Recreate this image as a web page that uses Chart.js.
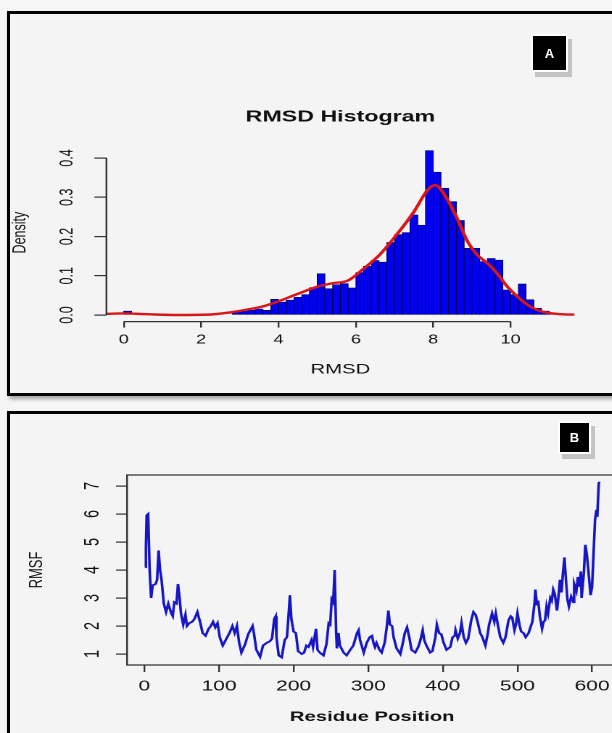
<!DOCTYPE html>
<html lang="en">
<head>
<meta charset="UTF-8">
<title>RMSD Histogram / RMSF</title>
<script src="https://cdn.jsdelivr.net/npm/chart.js@4.4.1/dist/chart.umd.min.js"></script>
<style>
  html, body { margin: 0; padding: 0; }
  body {
    width: 612px; height: 733px; overflow: hidden; position: relative;
    background: #f6f6f6;
    font-family: 'Liberation Sans', Arial, sans-serif;
  }
  .frame {
    position: absolute; left: 7px; width: 640px;
    border: 3px solid #000; background: #f4f4f4;
    box-shadow: 2px 3px 4px rgba(0, 0, 0, 0.35);
  }
  #frameA { top: 11px; height: 379px; }
  #frameB { top: 411px; height: 400px; }
  /* the original figure is stretched sideways, so the charts are too */
  .stretch { position: absolute; left: 0; transform-origin: 0 0; transform: scaleX(1.45); }
  #wrapA { top: 0; }
  #wrapB { top: 400px; }
  .tag {
    position: absolute; background: #000; color: #fff;
    font: bold 13px 'Liberation Sans', Arial, sans-serif;
    display: flex; align-items: center; justify-content: center;
    box-shadow: 0 0 0 2px #fff, 4px 5px 0 2px #c4c4c4;
  }
  #tagA { left: 533px; top: 36px; width: 33px; height: 34px; }
  #tagB { left: 560px; top: 423px; width: 29px; height: 29px; }
</style>
</head>
<body>
  <div class="frame" id="frameA"></div>
  <div class="frame" id="frameB"></div>

  <div class="stretch" id="wrapA"><canvas id="histA" width="440" height="400"></canvas></div>
  <div class="stretch" id="wrapB"><canvas id="rmsfB" width="440" height="333"></canvas></div>

  <div class="tag" id="tagA">A</div>
  <div class="tag" id="tagB">B</div>

<script>
// ---- panel A: RMSD histogram (density), bins of 0.2 ----
const rmsdBinWidth = 0.2;
const rmsdBinStarts = [0.0, 0.2, 0.4, 0.6, 0.8, 1.0, 1.2, 1.4, 1.6, 1.8, 2.0, 2.2, 2.4, 2.6,
  2.8, 3.0, 3.2, 3.4, 3.6, 3.8, 4.0, 4.2, 4.4, 4.6, 4.8, 5.0, 5.2, 5.4, 5.6, 5.8,
  6.0, 6.2, 6.4, 6.6, 6.8, 7.0, 7.2, 7.4, 7.6, 7.8, 8.0, 8.2, 8.4, 8.6, 8.8,
  9.0, 9.2, 9.4, 9.6, 9.8, 10.0, 10.2, 10.4, 10.6, 10.8, 11.0];
const rmsdDensity = [0.010, 0, 0, 0, 0, 0, 0, 0, 0, 0, 0, 0, 0, 0,
  0.008, 0.010, 0.012, 0.015, 0.012, 0.040, 0.033, 0.038, 0.045, 0.052, 0.070, 0.105, 0.067, 0.077, 0.080, 0.069,
  0.108, 0.124, 0.139, 0.135, 0.185, 0.205, 0.210, 0.255, 0.229, 0.419, 0.364, 0.323, 0.289, 0.241, 0.170,
  0.170, 0.136, 0.144, 0.140, 0.064, 0.052, 0.079, 0.039, 0.017, 0.010, 0.005];

// density curve
const kdeX = [-0.46, 0.0, 0.6, 1.4, 2.2, 2.7, 3.2, 3.6, 4.0, 4.5, 5.0, 5.4, 5.8, 6.2, 6.6, 7.0, 7.5,
  7.85, 8.05, 8.35, 8.6, 8.9, 9.15, 9.4, 9.65, 9.9, 10.2, 10.5, 10.85, 11.3, 11.7];
const kdeY = [0.003, 0.004, 0.002, 0.0, 0.001, 0.006, 0.014, 0.022, 0.035, 0.054, 0.072, 0.081, 0.088,
  0.118, 0.152, 0.198, 0.263, 0.318, 0.331, 0.297, 0.250, 0.185, 0.152, 0.132, 0.106, 0.074, 0.045,
  0.022, 0.008, 0.002, 0.001];

const xTicksA = [0, 2, 4, 6, 8, 10];
const yTicksA = [0, 0.1, 0.2, 0.3, 0.4];

// ---- panel B: RMSF per residue ----
const residues = [1, 2, 3, 5, 7, 9, 11, 15, 17, 19, 21, 23, 26, 29, 32, 36, 38, 40, 43, 45, 47, 49,
  52, 55, 57, 60, 64, 67, 71, 75, 78, 82, 86, 89, 92, 95, 98, 101, 105, 109, 114, 118, 121, 124,
  127, 130, 135, 139, 143, 145, 147, 150, 155, 159, 164, 168, 171, 174, 176, 177, 180, 184, 188,
  191, 193, 195, 197, 200, 203, 206, 211, 214, 217, 220, 224, 226, 230, 232, 235, 240, 244, 247,
  249, 251, 253, 255, 257, 258, 260, 262, 267, 271, 276, 280, 285, 287, 289, 294, 298, 302, 305,
  307, 309, 311, 315, 318, 322, 325, 327, 329, 332, 334, 338, 343, 346, 349, 352, 355, 358, 363,
  367, 370, 373, 375, 378, 383, 386, 390, 392, 395, 398, 401, 405, 410, 413, 416, 417, 420, 423,
  425, 428, 431, 434, 438, 441, 444, 447, 450, 453, 457, 460, 462, 465, 466, 469, 471, 474, 477,
  481, 484, 488, 491, 493, 496, 498, 500, 503, 505, 508, 511, 515, 518, 520, 523, 524, 526, 528,
  530, 533, 535, 537, 539, 541, 544, 546, 548, 550, 553, 555, 557, 559, 561, 563, 565, 567, 569,
  572, 575, 576, 579, 581, 583, 585, 586, 589, 591, 593, 595, 598, 600, 602, 604, 606, 607, 609, 610];
const rmsf = [4.1, 4.8, 5.95, 6.0, 4.0, 3.0, 3.45, 3.5, 3.65, 4.7, 4.0, 3.65, 2.8, 2.5, 2.8, 2.45, 2.35, 2.85, 2.8, 3.5, 3.05, 2.45,
  2.05, 2.4, 2.0, 2.1, 2.15, 2.25, 2.5, 2.1, 1.75, 1.65, 1.9, 2.0, 2.15, 1.95, 2.1, 1.6, 1.3, 1.5, 1.75, 2.0, 1.75, 2.0,
  1.4, 1.05, 1.35, 1.7, 1.9, 2.0, 1.7, 1.15, 0.9, 1.3, 1.4, 1.45, 1.55, 2.25, 2.35, 1.6, 0.95, 0.88, 1.5,
  1.6, 2.3, 3.1, 2.25, 1.8, 1.75, 1.1, 1.0, 1.05, 1.3, 1.25, 1.5, 1.25, 1.9, 1.15, 1.05, 0.95, 1.35, 2.1,
  2.05, 2.95, 2.85, 4.0, 1.75, 1.2, 1.75, 1.3, 1.05, 0.95, 1.15, 1.3, 1.75, 1.85, 1.5, 1.05, 1.4, 1.6, 1.65,
  1.4, 1.25, 1.4, 1.15, 1.05, 1.4, 2.0, 2.55, 2.05, 2.0, 1.6, 1.2, 1.0, 1.35, 1.75, 1.95, 1.6, 1.15, 1.05,
  1.25, 1.5, 1.85, 1.5, 1.3, 1.05, 1.1, 1.6, 2.05, 1.75, 1.7, 1.4, 1.15, 1.25, 1.6, 1.65, 1.85, 1.55, 1.75,
  2.1, 1.6, 1.4, 1.55, 2.2, 2.5, 2.4, 2.1, 1.75, 1.6, 1.3, 1.7, 2.05, 2.35, 2.45, 2.15, 2.45, 2.0, 1.6,
  1.4, 1.6, 2.2, 2.35, 2.3, 1.85, 2.05, 2.45, 2.0, 1.8, 1.75, 1.6, 1.75, 2.0, 2.15, 2.85, 3.3, 2.8, 2.85,
  2.35, 1.9, 2.15, 2.2, 2.7, 2.45, 3.0, 2.9, 3.3, 3.15, 2.55, 3.05, 3.65, 3.2, 3.9, 4.45, 3.65, 2.95, 2.7,
  3.05, 2.85, 3.5, 3.25, 3.75, 3.4, 3.95, 3.0, 3.9, 4.9, 4.55, 4.0, 3.1, 3.4, 4.6, 5.8, 6.15, 5.9, 7.1, 7.15];

const xTicksB = [0, 100, 200, 300, 400, 500, 600];
const yTicksB = [1, 2, 3, 4, 5, 6, 7];

const FONT = "'Liberation Sans', Arial, sans-serif";
const INK = '#111';

// R style axes: line only from first to last tick, or a full box
const rAxes = {
  id: 'rAxes',
  afterDraw(chart, args, opts) {
    const { ctx, chartArea: a, scales: { x, y } } = chart;
    ctx.save();
    ctx.strokeStyle = '#333';
    ctx.lineWidth = 1.2;
    ctx.beginPath();
    if (opts.box) {
      ctx.rect(a.left, a.top, a.right - a.left, a.bottom - a.top);
    } else {
      const xt = x.ticks, yt = y.ticks;
      ctx.moveTo(x.getPixelForValue(xt[0].value), a.bottom);
      ctx.lineTo(x.getPixelForValue(xt[xt.length - 1].value), a.bottom);
      ctx.moveTo(a.left, y.getPixelForValue(yt[0].value));
      ctx.lineTo(a.left, y.getPixelForValue(yt[yt.length - 1].value));
    }
    ctx.stroke();
    ctx.restore();
  }
};

function tickGrid(len) {
  return {
    display: true, offset: false, drawOnChartArea: false, drawTicks: true,
    tickLength: len, color: '#333', lineWidth: 1.2
  };
}

new Chart(document.getElementById('histA'), {
  type: 'bar',
  data: {
    datasets: [
      {
        type: 'line',
        data: kdeX.map((x, i) => ({ x: x, y: kdeY[i] })),
        borderColor: '#d81818',
        borderWidth: 2.4,
        pointRadius: 0,
        cubicInterpolationMode: 'monotone',
        order: 0
      },
      {
        type: 'bar',
        data: rmsdBinStarts.map((b, i) => ({ x: b + rmsdBinWidth / 2, y: rmsdDensity[i] })),
        backgroundColor: '#0000ee',
        borderColor: '#00004a',
        borderWidth: 0.6,
        borderSkipped: false,
        barPercentage: 1,
        categoryPercentage: 1,
        order: 1
      }
    ]
  },
  options: {
    responsive: false,
    animation: false,
    devicePixelRatio: 2,
    layout: { padding: { left: 0, right: 43.9, top: 0, bottom: 0 } },
    plugins: {
      legend: { display: false },
      tooltip: { enabled: false },
      title: {
        display: true, text: 'RMSD Histogram', fullSize: false, color: INK,
        font: { family: FONT, size: 16, weight: 'bold' },
        padding: { top: 107.4, bottom: 17 }
      }
    },
    scales: {
      x: {
        type: 'linear', min: -0.448, max: 11.648, offset: false,
        afterBuildTicks: s => { s.ticks = xTicksA.map(v => ({ value: v })); },
        afterFit: s => { s.height = 78.4; },
        grid: tickGrid(6),
        border: { display: false },
        ticks: { padding: 5, color: INK, maxRotation: 0, autoSkip: false, font: { family: FONT, size: 12.5 } },
        title: { display: true, text: 'RMSD', color: INK, font: { family: FONT, size: 14 }, padding: { top: 0, bottom: 22 } }
      },
      y: {
        min: -0.0168, max: 0.4368,
        afterBuildTicks: s => { s.ticks = yTicksA.map(v => ({ value: v })); },
        afterFit: s => { s.width = 73.4; },
        grid: tickGrid(8.3),
        border: { display: false },
        ticks: {
          minRotation: 90, maxRotation: 90, crossAlign: 'center', padding: 10, color: INK,
          font: { family: FONT, size: 12.5 }, callback: v => v.toFixed(1)
        },
        title: { display: true, text: 'Density', color: INK, font: { family: FONT, size: 12.5 }, padding: { top: 6.7, bottom: 0 } }
      }
    }
  },
  plugins: [rAxes]
});

new Chart(document.getElementById('rmsfB'), {
  type: 'line',
  data: {
    datasets: [{
      data: residues.map((r, i) => ({ x: r, y: rmsf[i] })),
      borderColor: '#1616c4',
      borderWidth: 1.8,
      pointRadius: 0,
      tension: 0
    }]
  },
  options: {
    responsive: false,
    animation: false,
    devicePixelRatio: 2,
    layout: { padding: { left: 0, right: 14.2, top: 75, bottom: 0 } },
    plugins: {
      legend: { display: false },
      tooltip: { enabled: false },
      rAxes: { box: true }
    },
    scales: {
      x: {
        type: 'linear', min: -23.3, max: 634,
        afterBuildTicks: s => { s.ticks = xTicksB.map(v => ({ value: v })); },
        afterFit: s => { s.height = 68; },
        grid: tickGrid(7),
        border: { display: false },
        ticks: { padding: 6, color: INK, maxRotation: 0, autoSkip: false, font: { family: FONT, size: 14.5 } },
        title: { display: true, text: 'Residue Position', color: INK, font: { family: FONT, size: 14, weight: 'bold' }, padding: { top: 0, bottom: 7.6 } }
      },
      y: {
        min: 0.607, max: 7.393,
        afterBuildTicks: s => { s.ticks = yTicksB.map(v => ({ value: v })); },
        afterFit: s => { s.width = 87.6; },
        grid: tickGrid(7.6),
        border: { display: false },
        ticks: { minRotation: 90, maxRotation: 90, crossAlign: 'center', padding: 12, color: INK, font: { family: FONT, size: 14.5 } },
        title: { display: true, text: 'RMSF', color: INK, font: { family: FONT, size: 13 }, padding: { top: 17.8, bottom: 0 } }
      }
    }
  },
  plugins: [rAxes]
});
</script>
</body>
</html>
